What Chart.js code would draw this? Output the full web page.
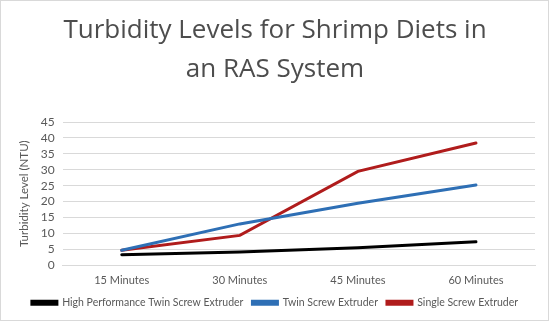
<!DOCTYPE html>
<html>
<head>
<meta charset="utf-8">
<script src="https://cdn.jsdelivr.net/npm/chart.js@4/dist/chart.umd.min.js"></script>
<style>
  html, body { margin: 0; padding: 0; background: #fff; }
  #wrap { width: 547px; height: 319px; border: 1px solid #d9d9d9; position: relative; }
</style>
</head>
<body>
<div id="wrap"><canvas id="chart" width="547" height="319"></canvas></div>
<script>
// Données
const categories = ["15 Minutes", "30 Minutes", "45 Minutes", "60 Minutes"];
const highPerfTwin = [3.3, 4.2, 5.5, 7.4];
const twinScrew = [4.7, 13.0, 19.5, 25.2];
const singleScrew = [4.7, 9.4, 29.5, 38.4];

const textColor = "#595959";
const titleFont = "'Open Sans', 'Liberation Sans', sans-serif";
const bodyFont = "Lato, 'Liberation Sans', sans-serif";

const ctx = document.getElementById("chart").getContext("2d");
new Chart(ctx, {
    type: "line",
    data: {
        labels: categories,
        datasets: [
            { label: "High Performance Twin Screw Extruder", data: highPerfTwin, borderColor: "#000000", backgroundColor: "#000000" },
            { label: "Twin Screw Extruder", data: twinScrew, borderColor: "#2e6fb5", backgroundColor: "#2e6fb5" },
            { label: "Single Screw Extruder", data: singleScrew, borderColor: "#b01c1c", backgroundColor: "#b01c1c" },
        ],
    },
    options: {
        responsive: false,
        animation: false,
        elements: {
            line: { borderWidth: 3, tension: 0, borderCapStyle: "round" },
            point: { radius: 0 },
        },
        layout: { padding: { left: 14, right: 13, top: 2, bottom: 2 } },
        plugins: {
            title: {
                display: true,
                text: ["Turbidity Levels for Shrimp Diets in", "an RAS System"],
                color: "#4d4d4d",
                font: { family: titleFont, size: 26, weight: "normal", lineHeight: 1.5 },
                padding: { top: 8, bottom: 33 },
            },
            legend: {
                position: "bottom",
                labels: {
                    color: textColor,
                    font: { family: bodyFont, size: 10.5 },
                    boxWidth: 25,
                    boxHeight: 3,
                    padding: 9,
                },
            },
            tooltip: { enabled: false },
        },
        scales: {
            x: {
                offset: true,
                grid: { display: false },
                border: { color: "#d9d9d9" },
                ticks: { color: textColor, font: { family: bodyFont, size: 11 }, padding: 1 },
            },
            y: {
                min: 0,
                max: 45,
                ticks: { stepSize: 5, autoSkip: false, color: textColor, font: { family: bodyFont, size: 12 }, padding: 8 },
                grid: { color: "#d9d9d9", drawTicks: false },
                border: { display: false },
                title: {
                    display: true,
                    text: "Turbidity Level (NTU)",
                    color: textColor,
                    font: { family: bodyFont, size: 11.5 },
                    padding: 2,
                },
            },
        },
    },
});
</script>
</body>
</html>
